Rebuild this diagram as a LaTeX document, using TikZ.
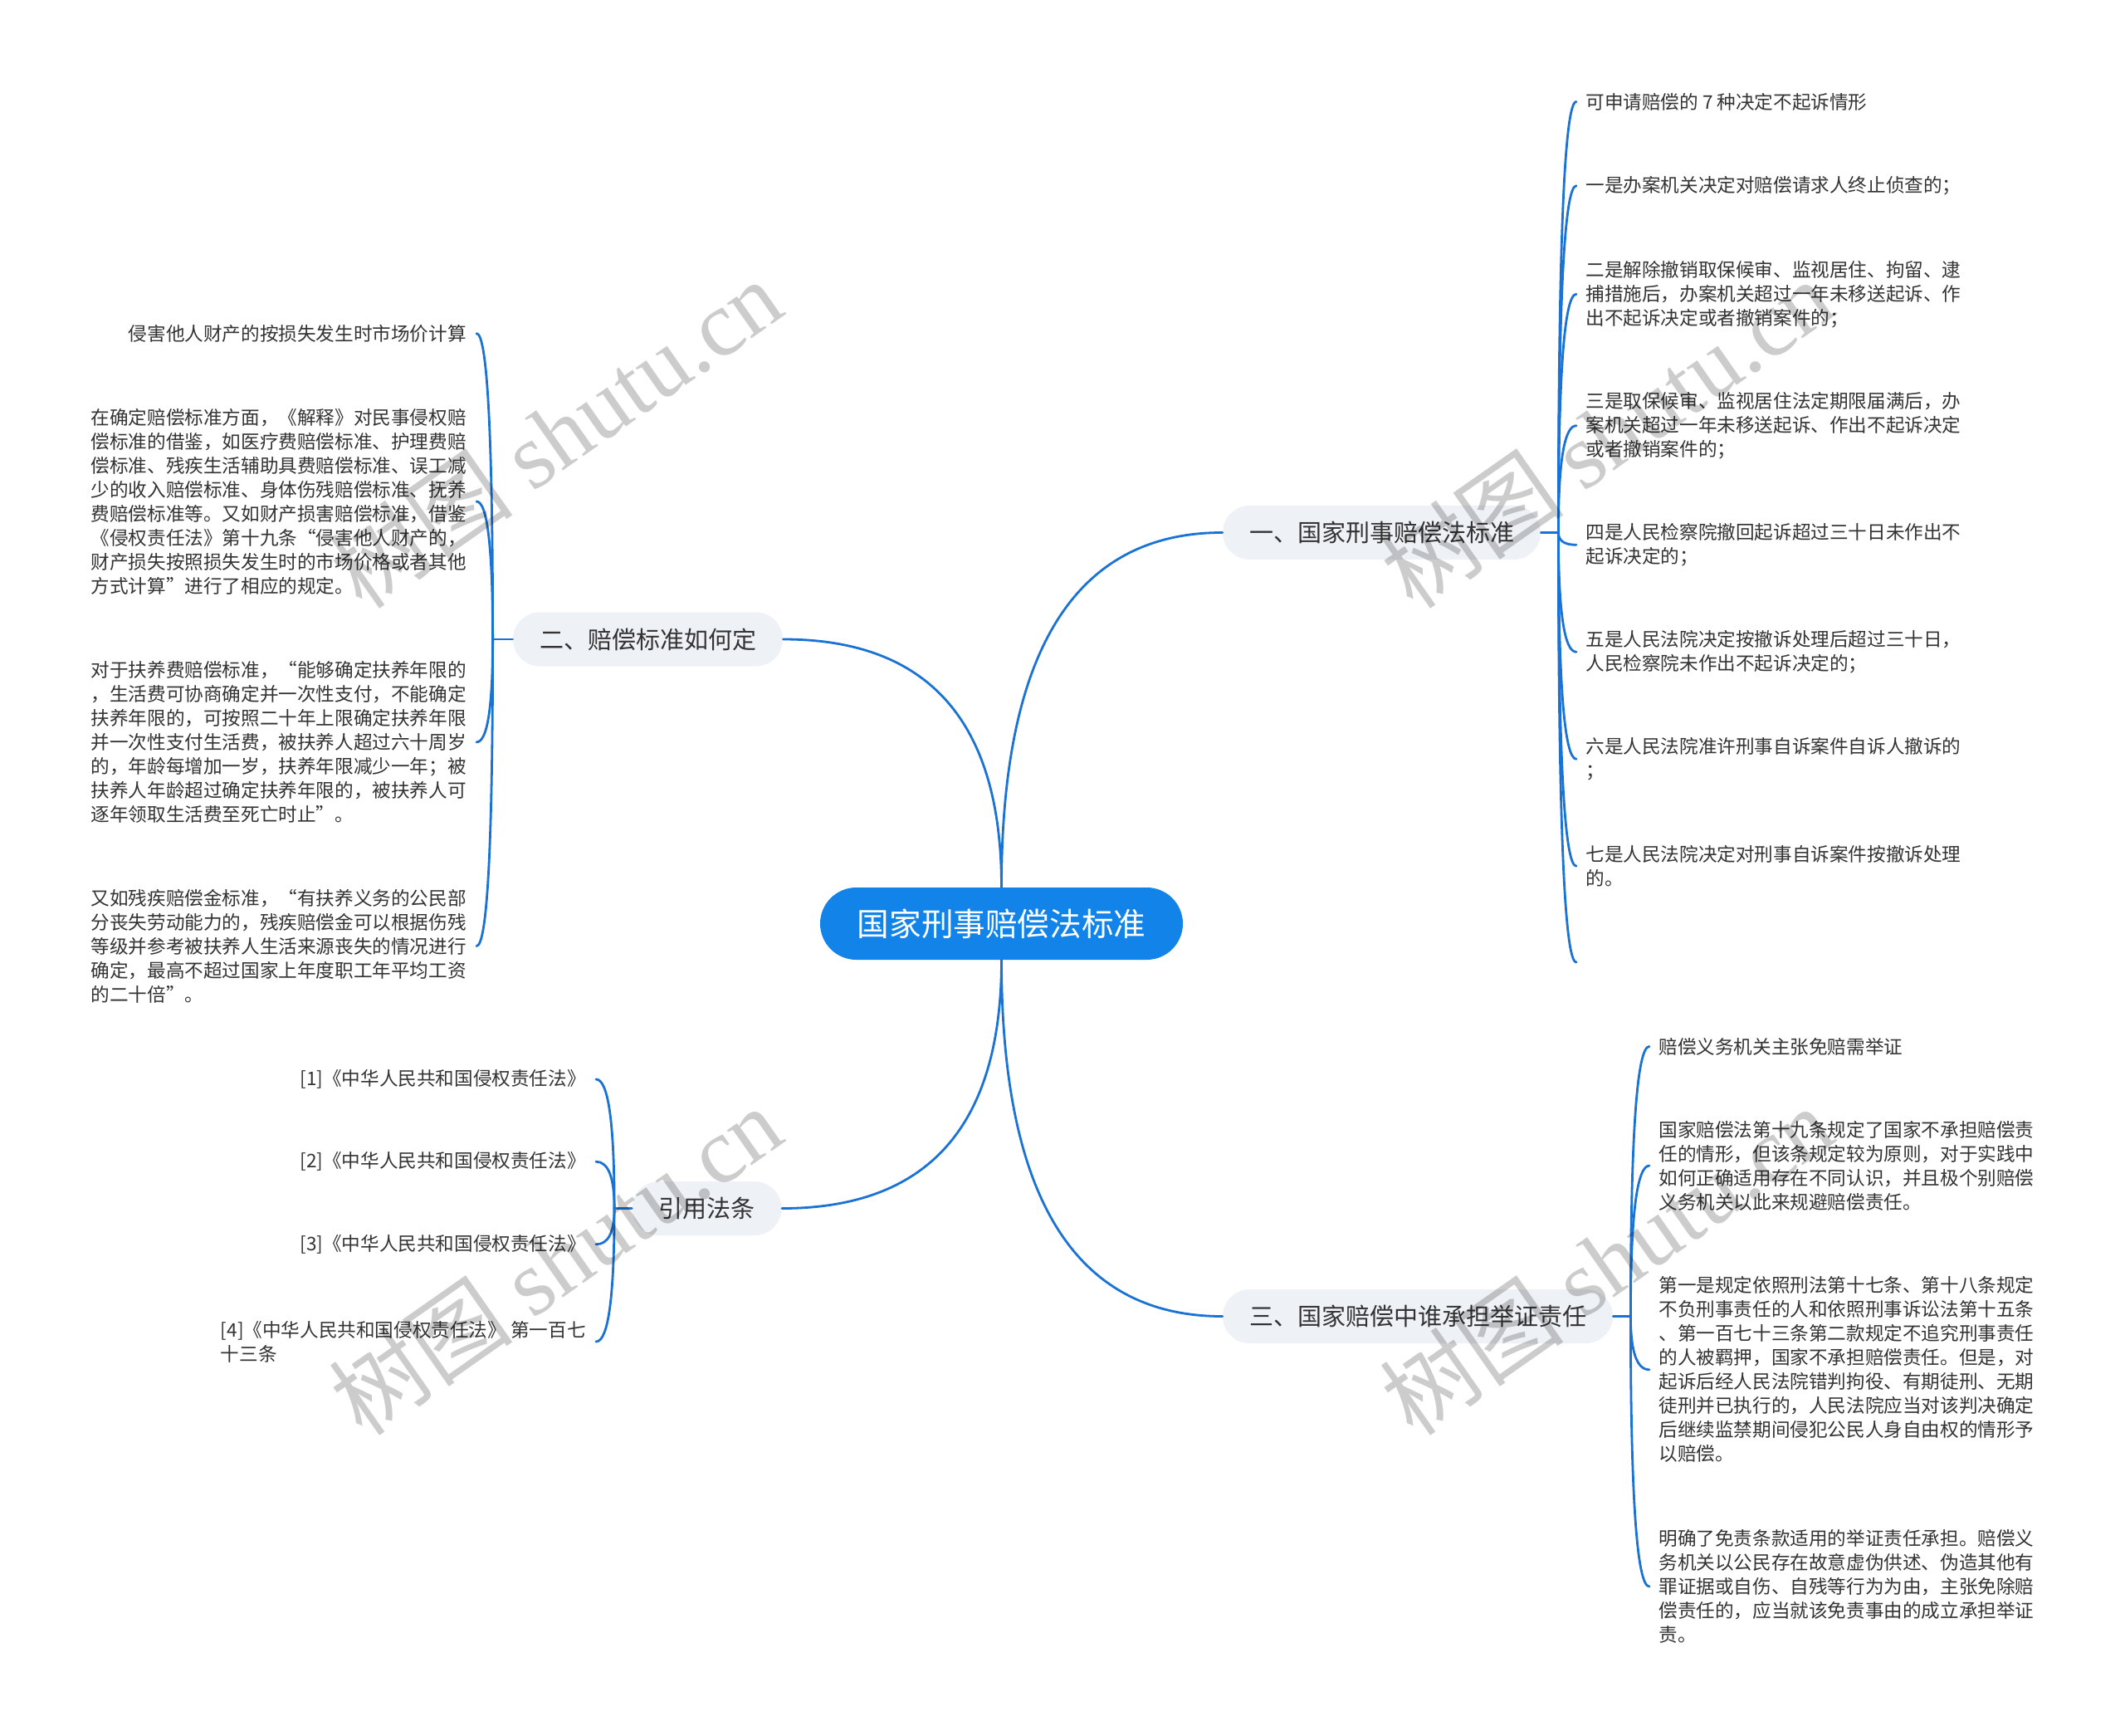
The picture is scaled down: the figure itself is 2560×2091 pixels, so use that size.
\documentclass[tikz,border=0pt]{standalone}
\usepackage{fontspec}
\setmainfont{Noto Sans CJK SC}
\newfontfamily\wmfont{Liberation Serif}
\usetikzlibrary{calc}
\definecolor{mainblue}{HTML}{1283E8}
\definecolor{linkblue}{HTML}{1A73D4}
\definecolor{branchbg}{HTML}{EEF1F5}
\definecolor{txt}{HTML}{333333}
\tikzset{
  link/.style={draw=linkblue, line width=1.4pt, line cap=round},
  curv/.style={to path={.. controls ($(\tikztostart)!0.667!(\tikztostart |- \tikztotarget)$) and ($(\tikztotarget)!0.667!(\tikztostart |- \tikztotarget)$) .. (\tikztotarget)}},
  centerbox/.style={fill=mainblue, rounded corners=21.75pt, minimum height=43.5pt, minimum width=218.5pt, text=white, inner sep=0pt, font=\fontsize{19.3pt}{23pt}\selectfont},
  branchbox/.style={fill=branchbg, rounded corners=16.25pt, minimum height=32.5pt, inner xsep=16pt, inner ysep=0pt, text=txt, font=\fontsize{14.5pt}{17pt}\selectfont},
  leafR/.style={anchor=west, inner xsep=5.5pt, inner ysep=0pt, align=left, text=txt, font=\fontsize{11.3pt}{14.5pt}\selectfont},
  leafL/.style={anchor=east, inner xsep=6pt, inner ysep=0pt, align=left, text=txt, font=\fontsize{11.3pt}{14.5pt}\selectfont},
  wm/.style={text=black, text opacity=0.2, rotate=35, inner sep=0pt, font=\fontsize{56pt}{60pt}\selectfont}
}
\begin{document}
\begin{tikzpicture}[x=0.5pt, y=-0.5pt]
\useasboundingbox[fill=white] (0,0) rectangle (2560,2091);

% central and main branches
\node[centerbox] (c) at (1206.5,1112.5) {国家刑事赔偿法标准};
\node[branchbox] (b1) at (1664.5,641.5) {一、国家刑事赔偿法标准};
\node[branchbox] (b2) at (780.5,770) {二、赔偿标准如何定};
\node[branchbox] (b3) at (851.5,1455.5) {引用法条};
\node[branchbox] (b4) at (1708,1585.5) {三、国家赔偿中谁承担举证责任};

\draw[link] (c.north) to[curv] (b1.west);
\draw[link] (c.north) to[curv] (b2.east);
\draw[link] (c.south) to[curv] (b3.east);
\draw[link] (c.south) to[curv] (b4.west);

% branch 1 leaves
\node[leafR] (l1a) at (1899,122.5) {可申请赔偿的 7 种决定不起诉情形};
\node[leafR] (l1b) at (1899,223.7) {一是办案机关决定对赔偿请求人终止侦查的；};
\node[leafR] (l1c) at (1899,354.3) {二是解除撤销取保候审、监视居住、拘留、逮\\捕措施后，办案机关超过一年未移送起诉、作\\出不起诉决定或者撤销案件的；};
\node[leafR] (l1d) at (1899,512.7) {三是取保候审、监视居住法定期限届满后，办\\案机关超过一年未移送起诉、作出不起诉决定\\或者撤销案件的；};
\node[leafR] (l1e) at (1899,656.3) {四是人民检察院撤回起诉超过三十日未作出不\\起诉决定的；};
\node[leafR] (l1f) at (1899,785.3) {五是人民法院决定按撤诉处理后超过三十日，\\人民检察院未作出不起诉决定的；};
\node[leafR] (l1g) at (1899,914.3) {六是人民法院准许刑事自诉案件自诉人撤诉的\\；};
\node[leafR] (l1h) at (1899,1043.3) {七是人民法院决定对刑事自诉案件按撤诉处理\\的。};
\coordinate (l1i) at (1899,1159);

\coordinate (j1) at ($(b1.east)+(21,0)$);
\draw[link] (b1.east) -- (j1);
\foreach \n in {l1a,l1b,l1c,l1d,l1e,l1f,l1g,l1h} \draw[link] (j1) to[curv] (\n.west);
\draw[link] (j1) to[curv] (l1i);

% branch 2 leaves
\node[leafL] (l2a) at (574,401.6) {侵害他人财产的按损失发生时市场价计算};
\node[leafL] (l2b) at (574,604) {在确定赔偿标准方面，《解释》对民事侵权赔\\偿标准的借鉴，如医疗费赔偿标准、护理费赔\\偿标准、残疾生活辅助具费赔偿标准、误工减\\少的收入赔偿标准、身体伤残赔偿标准、抚养\\费赔偿标准等。又如财产损害赔偿标准，借鉴\\《侵权责任法》第十九条“侵害他人财产的，\\财产损失按照损失发生时的市场价格或者其他\\方式计算”进行了相应的规定。};
\node[leafL] (l2c) at (574,893.9) {对于扶养费赔偿标准，“能够确定扶养年限的\\，生活费可协商确定并一次性支付，不能确定\\扶养年限的，可按照二十年上限确定扶养年限\\并一次性支付生活费，被扶养人超过六十周岁\\的，年龄每增加一岁，扶养年限减少一年；被\\扶养人年龄超过确定扶养年限的，被扶养人可\\逐年领取生活费至死亡时止”。};
\node[leafL] (l2d) at (574,1139.6) {又如残疾赔偿金标准，“有扶养义务的公民部\\分丧失劳动能力的，残疾赔偿金可以根据伤残\\等级并参考被扶养人生活来源丧失的情况进行\\确定，最高不超过国家上年度职工年平均工资\\的二十倍”。};

\coordinate (j2) at ($(b2.west)+(-24,0)$);
\draw[link] (b2.west) -- (j2);
\foreach \n in {l2a,l2b,l2c,l2d} \draw[link] (j2) to[curv] (\n.east);

% branch 3 leaves
\node[leafL] (l3a) at (718,1300) {{}[1]《中华人民共和国侵权责任法》};
\node[leafL] (l3b) at (718,1399.2) {{}[2]《中华人民共和国侵权责任法》};
\node[leafL] (l3c) at (718,1498.8) {{}[3]《中华人民共和国侵权责任法》};
\node[leafL] (l3d) at (718,1616) {{}[4]《中华人民共和国侵权责任法》 第一百七\\十三条};

\coordinate (j3) at ($(b3.west)+(-21,0)$);
\draw[link] (b3.west) -- (j3);
\foreach \n in {l3a,l3b,l3c,l3d} \draw[link] (j3) to[curv] (\n.east);

% branch 4 leaves
\node[leafR] (l4a) at (1987,1260.4) {赔偿义务机关主张免赔需举证};
\node[leafR] (l4b) at (1987,1404) {国家赔偿法第十九条规定了国家不承担赔偿责\\任的情形，但该条规定较为原则，对于实践中\\如何正确适用存在不同认识，并且极个别赔偿\\义务机关以此来规避赔偿责任。};
\node[leafR] (l4c) at (1987,1649.8) {第一是规定依照刑法第十七条、第十八条规定\\不负刑事责任的人和依照刑事诉讼法第十五条\\、第一百七十三条第二款规定不追究刑事责任\\的人被羁押，国家不承担赔偿责任。但是，对\\起诉后经人民法院错判拘役、有期徒刑、无期\\徒刑并已执行的，人民法院应当对该判决确定\\后继续监禁期间侵犯公民人身自由权的情形予\\以赔偿。};
\node[leafR] (l4d) at (1987,1911) {明确了免责条款适用的举证责任承担。赔偿义\\务机关以公民存在故意虚伪供述、伪造其他有\\罪证据或自伤、自残等行为为由，主张免除赔\\偿责任的，应当就该免责事由的成立承担举证\\责。};

\coordinate (j4) at ($(b4.east)+(21,0)$);
\draw[link] (b4.east) -- (j4);
\foreach \n in {l4a,l4b,l4c,l4d} \draw[link] (j4) to[curv] (\n.west);

% watermarks
\node[wm] (w1) at (669,522) {树图 {\wmfont shutu.cn}};
\node[wm] (w2) at (1935,522) {树图 {\wmfont shutu.cn}};
\node[wm] (w3) at (669,1518) {树图 {\wmfont shutu.cn}};
\node[wm] (w4) at (1935,1518) {树图 {\wmfont shutu.cn}};
\end{tikzpicture}
\end{document}
